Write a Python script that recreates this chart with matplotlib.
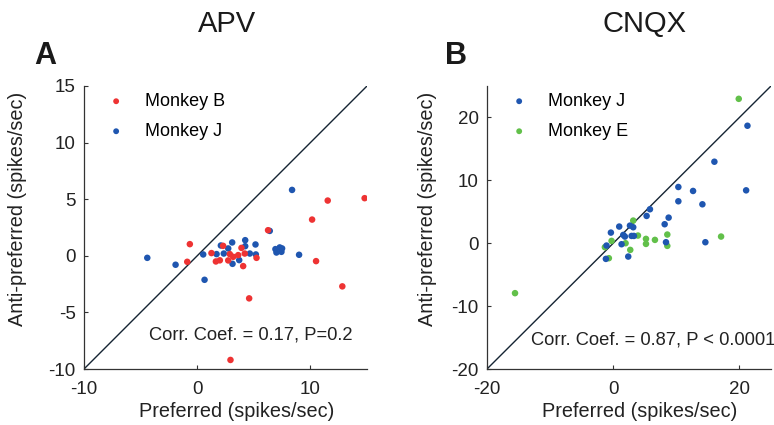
import matplotlib
matplotlib.use("Agg")
import matplotlib.pyplot as plt

plt.rcParams['font.family'] = ['Liberation Sans', 'DejaVu Sans']
plt.rcParams['axes.unicode_minus'] = False

# APV panel: (preferred, anti-preferred) in spikes/sec
apv_b_x = [-0.65, -0.88, 1.26, 1.65, 2.0, 2.29, 2.74, 2.88, 2.94, 3.18, 3.62, 3.91, 4.06,
           4.2, 4.59, 5.24, 6.26, 10.15, 10.5, 11.53, 12.82, 14.79]
apv_b_y = [1.03, -0.53, 0.24, -0.5, -0.4, 0.88, -0.41, 0.15, -9.2, -0.09, 0.06, 0.7, -0.91,
           0.2, -3.76, -0.18, 2.26, 3.2, -0.47, 4.88, -2.7, 5.09]
apv_j_x = [-4.41, -1.91, 0.53, 0.65, 1.71, 2.09, 2.35, 2.74, 3.09, 3.12, 3.71, 4.24, 4.24,
           4.65, 5.15, 5.18, 6.41, 6.91, 7.0, 7.29, 7.44, 7.5, 8.38, 9.0]
apv_j_y = [-0.18, -0.79, 0.12, -2.12, 0.15, 0.91, 0.2, 0.65, 1.18, -0.71, -0.38, 1.38, 0.85,
           0.2, 1.0, 0.12, 2.2, 0.59, 0.29, 0.74, 0.35, 0.65, 5.82, 0.09]

# CNQX panel
cnqx_j_x = [-1.06, -1.16, -0.37, 0.95, 1.32, 1.59, 1.85, 2.38, 2.65, 2.91, 3.17, 3.28, 5.29,
            5.82, 8.15, 8.36, 8.78, 10.32, 10.32, 12.65, 14.13, 14.6, 16.03, 21.06, 21.27]
cnqx_j_y = [-0.37, -2.49, 1.69, 2.65, -0.16, 1.32, 1.06, -2.12, 2.8, 1.16, 2.54, 1.16, 4.34,
            5.4, 3.02, 0.16, 4.07, 8.94, 6.67, 8.31, 6.19, 0.16, 12.96, 8.41, 18.68]
cnqx_e_x = [-15.56, -1.32, -0.69, -0.26, 1.96, 2.7, 3.17, 3.92, 5.19, 5.19, 6.61, 8.57, 8.57,
            17.09, 19.89]
cnqx_e_y = [-7.94, -0.63, -2.38, 0.37, 0.0, -1.06, 3.6, 1.22, 0.69, -0.11, 0.53, 1.38, -0.42,
            1.06, 22.96]

red = '#ee3333'
blue = '#1f56b0'
green = '#62c04a'
line_col = '#152433'

fig = plt.figure(figsize=(7.74, 4.25), dpi=100)
W, H = 774.0, 425.0
axA = fig.add_axes([84 / W, 1 - 369 / H, 283 / W, 283 / H])
axB = fig.add_axes([487 / W, 1 - 369 / H, 284 / W, 283 / H])


def style(ax, lim, ticks, xticks, ylab_x):
    ax.plot(lim, lim, color=line_col, lw=1.0, zorder=1)
    ax.set_xlim(lim)
    ax.set_ylim(lim)
    ax.set_xticks(xticks)
    ax.set_yticks(ticks)
    for s in ['top', 'right']:
        ax.spines[s].set_visible(False)
    for s in ['left', 'bottom']:
        ax.spines[s].set_color('#333333')
        ax.spines[s].set_linewidth(0.9)
    ax.tick_params(direction='in', length=3, width=0.8, color='#333333',
                   labelsize=13.5, pad=6, labelcolor='#222222')
    ax.tick_params(axis='x', pad=9)
    ax.set_xlabel('Preferred (spikes/sec)', fontsize=14.3, color='#222222')
    ax.set_ylabel('Anti-preferred (spikes/sec)', fontsize=14.3, color='#222222')
    ax.xaxis.set_label_coords(0.538, -0.118)
    ax.yaxis.set_label_coords(ylab_x, 0.565)


style(axA, [-10, 15], [-10, -5, 0, 5, 10, 15], [-10, 0, 10], -0.201)
axA.scatter(apv_b_x, apv_b_y, s=22, color=red, edgecolors='none', label='Monkey B', zorder=3)
axA.scatter(apv_j_x, apv_j_y, s=22, color=blue, edgecolors='none', label='Monkey J', zorder=2)
axA.text(13.68, -7.0, 'Corr. Coef. = 0.17, P=0.2', fontsize=13.2, ha='right', va='center',
         color='#222222')

style(axB, [-20, 25], [-20, -10, 0, 10, 20], [-20, 0, 20], -0.176)
axB.scatter(cnqx_j_x, cnqx_j_y, s=22, color=blue, edgecolors='none', label='Monkey J', zorder=3)
axB.scatter(cnqx_e_x, cnqx_e_y, s=22, color=green, edgecolors='none', label='Monkey E', zorder=2)
axB.text(-13.03, -15.39, 'Corr. Coef. = 0.87, P < 0.0001', fontsize=13.2, ha='left', va='center',
         color='#222222', clip_on=False)

for ax in (axA, axB):
    ax.legend(loc='upper left', frameon=False, fontsize=13, markerscale=0.9,
              handlelength=1.0, handletextpad=1.1, borderaxespad=0.3, labelspacing=0.72,
              bbox_to_anchor=(0.037, 1.02))

fig.text(227 / W, 1 - 24 / H, 'APV', fontsize=21, ha='center', va='center', color='#1a1a1a')
fig.text(645 / W, 1 - 24 / H, 'CNQX', fontsize=21, ha='center', va='center', color='#1a1a1a')
fig.text(34 / W, 1 - 56 / H, 'A', fontsize=22, fontweight='bold', ha='left', va='center',
         color='#1a1a1a')
fig.text(445 / W, 1 - 56 / H, 'B', fontsize=22, fontweight='bold', ha='left', va='center',
         color='#1a1a1a')

fig.savefig('out.png', dpi=100)
